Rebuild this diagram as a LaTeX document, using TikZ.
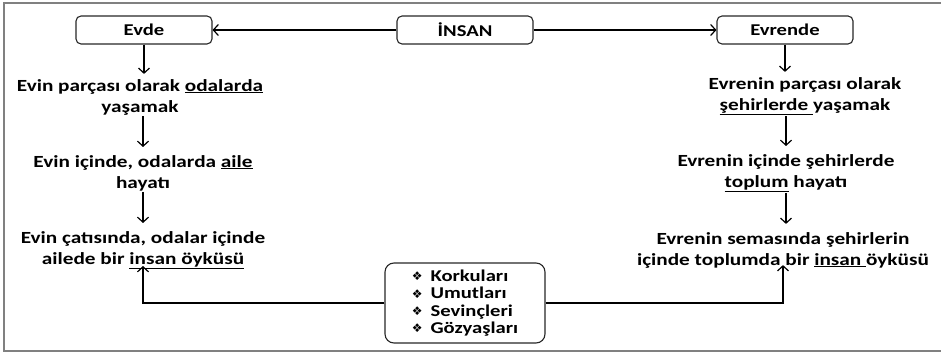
\documentclass[tikz,border=0pt]{standalone}
\usepackage{fontspec}
\setmainfont{Carlito}[FakeStretch=1.25]
\newfontfamily\symfont{DejaVu Sans}
\usetikzlibrary{arrows.meta}
\tikzset{
  rbox/.style={draw=black!85, line width=1.1pt, rounded corners=5pt, minimum width=136pt, minimum height=28pt, inner sep=0pt, font=\fontsize{16.5}{19}\selectfont\bfseries},
  txt/.style={align=center, inner xsep=0pt, inner ysep=1pt, font=\fontsize{17}{21}\selectfont\bfseries},
  arr/.style={line width=1.2pt, -{Straight Barb[length=5pt,width=11pt]}},
  frame/.style={draw=black!50, line width=2pt},
  listbox/.style={draw=black!85, line width=1.1pt, rounded corners=9pt, minimum width=160pt, minimum height=80pt, align=left, inner sep=0pt, font=\fontsize{16.5}{17.3}\selectfont\bfseries}
}
\newcommand{\bul}{{\symfont\fontsize{12}{12}\selectfont\raisebox{0.5pt}{❖}}\hspace{8pt}}
\begin{document}
\begin{tikzpicture}[x=1pt,y=-1pt]
\useasboundingbox (0,0) rectangle (941,355);
\draw[frame] (945,3) -- (4,3) -- (4,351) -- (945,351);
\node[rbox] (insan) at (465,30) {İNSAN};
\node[rbox] (evde) at (144,30) {Evde};
\node[rbox] (evrende) at (785,30) {Evrende};
\node[txt] (l1) at (140,97) {Evin parçası olarak \underline{odalarda}\\yaşamak};
\node[txt] (l2) at (143,173) {Evin içinde, odalarda \underline{aile}\\hayatı};
\node[txt] (l3) at (143,250) {Evin çatısında, odalar içinde\\ailede bir \underline{insan öyküsü}};
\node[txt] (r1) at (805,96) {Evrenin parçası olarak\\\underline{şehirlerde\ }yaşamak};
\node[txt] (r2) at (786,173) {Evrenin içinde şehirlerde\\\underline{toplum} hayatı};
\node[txt] (r3) at (783,250) {Evrenin semasında şehirlerin\\içinde toplumda bir \underline{insan\ }öyküsü};
\node[listbox] (box) at (465,303)
  {\bul Korkuları\\\bul Umutları\\\bul Sevinçleri\\\bul Gözyaşları};
\draw[arr] (insan.west) -- (evde.east);
\draw[arr] (insan.east) -- (evrende.west);
\draw[arr] (evde.south) -- ([yshift=4pt]evde.south |- l1.north);
\draw[arr] (evrende.south) -- ([yshift=4pt]evrende.south |- r1.north);
\draw[arr] (l2.north |- l1.south) -- ([yshift=7pt]l2.north);
\draw[arr] (l3.north |- l2.south) -- ([yshift=7pt]l3.north);
\draw[arr] (r2.north |- r1.south) -- ([yshift=7pt]r2.north);
\draw[arr] (r2.north |- r2.south) -- ([yshift=7pt]r2.north |- r3.north);
\draw[arr] (box.west) -| ([yshift=4pt]l3.south);
\draw[arr] (box.east) -| ([yshift=4pt]r3.south);
\end{tikzpicture}
\end{document}
